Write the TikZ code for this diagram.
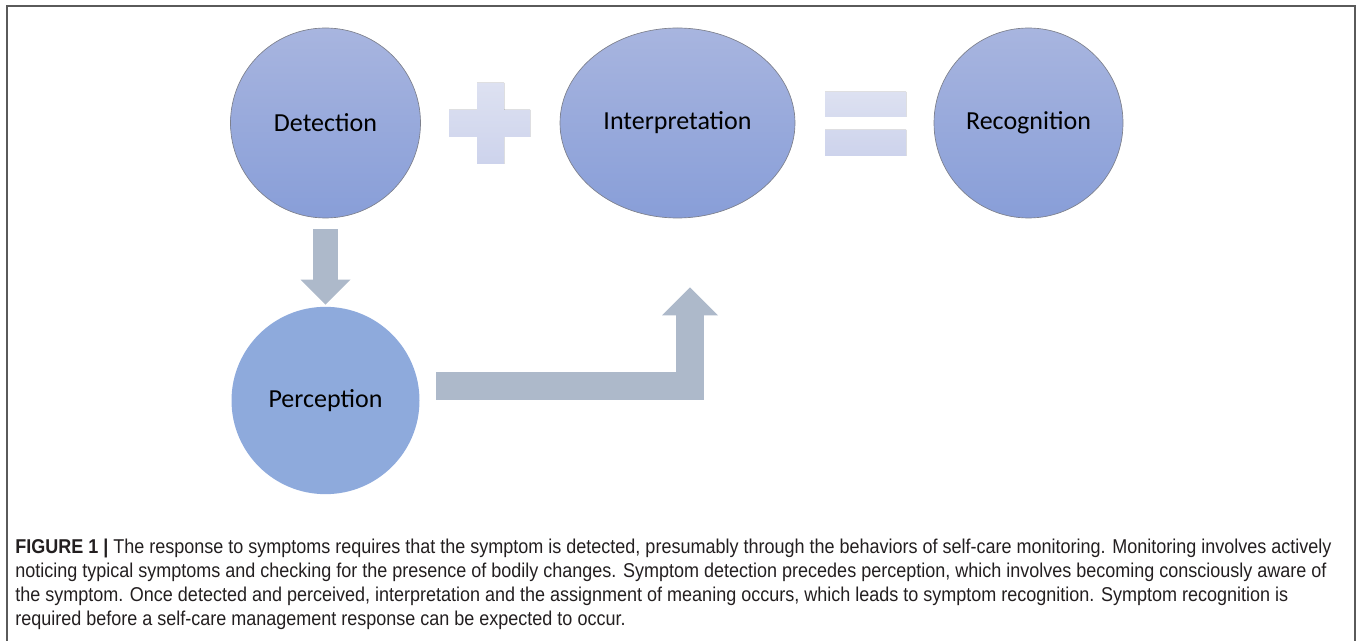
\documentclass[tikz,border=0pt]{standalone}
\usepackage{fontspec}
\setmainfont{Carlito}
\newfontfamily\capfont[FakeStretch=0.9]{Liberation Sans}
\usetikzlibrary{shapes.geometric,arrows.meta,shadings,calc}

\begin{document}
\begin{tikzpicture}[x=0.75pt,y=0.75pt,yscale=-1,xscale=1,
  bubble/.style={ellipse,inner sep=0pt,minimum height=142.5pt,
    draw={rgb, 255:red, 125; green, 128; blue, 140 },line width=0.5pt,
    top color={rgb, 255:red, 168; green, 181; blue, 223 },
    bottom color={rgb, 255:red, 136; green, 158; blue, 216 },
    font=\fontsize{19.5}{22}\selectfont},
  flatbubble/.style={ellipse,inner sep=0pt,minimum width=141pt,minimum height=140.5pt,
    fill={rgb, 255:red, 142; green, 170; blue, 220 },
    font=\fontsize{19.5}{22}\selectfont},
  symbol/.style={top color={rgb, 255:red, 221; green, 225; blue, 241 },
    bottom color={rgb, 255:red, 205; green, 211; blue, 236 }},
  blockarrow/.style={draw={rgb, 255:red, 173; green, 185; blue, 202 },line join=miter},
  frame/.style={draw={rgb, 255:red, 90; green, 90; blue, 90 },line width=1.5pt},
  caption/.style={inner sep=0pt,align=left,
    font=\capfont\fontsize{15}{18}\selectfont,
    color={rgb, 255:red, 35; green, 31; blue, 32 }}]
\useasboundingbox (0,0) rectangle (1357,641);

%Frame
\draw[frame] (7,641) -- (7,6) -- (1355,6) -- (1355,641);

%Shape: Ellipses
\node[bubble,minimum width=142.5pt] (detect) at (325.5,123) {Detection};
\node[bubble,minimum width=176.25pt] (interp) at (677.5,123) {Interpretation};
\node[bubble,minimum width=141.75pt] (recog) at (1028.5,123) {Recognition};
\node[flatbubble] (percep) at (325.5,400.5) {Perception};

%Shape: Plus
\fill[symbol] (477,83) -- (504,83) -- (504,110) -- (530,110) -- (530,137) -- (504,137) -- (504,164) -- (477,164) -- (477,137) -- (449,137) -- (449,110) -- (477,110) -- cycle;
%Shape: Equals
\fill[symbol] (825,92) rectangle (906,117) (825,130) rectangle (906,156);

%Block Arrows
\draw[blockarrow,line width=18.75pt,-{Triangle[length=18.75pt,width=37.5pt,line width=0pt]}]
  ($(detect.south)+(0,11)$) -- ($(percep.north)+(0,-2)$);
\draw[blockarrow,line width=21pt,-{Triangle[length=21pt,width=42pt,line width=0pt]}]
  ($(percep.east)+(16.5,-14)$) -| ($(interp.south)+(12.5,69)$);

% Text Node
\node[caption,anchor=base west] (cap) at (15,625) {\textbf{FIGURE 1 |} The response to symptoms requires that the symptom is detected, presumably through the behaviors of self-care monitoring. Monitoring involves actively\\
noticing typical symptoms and checking for the presence of bodily changes. Symptom detection precedes perception, which involves becoming consciously aware of\\
the symptom. Once detected and perceived, interpretation and the assignment of meaning occurs, which leads to symptom recognition. Symptom recognition is\\
required before a self-care management response can be expected to occur.};

\end{tikzpicture}
\end{document}
